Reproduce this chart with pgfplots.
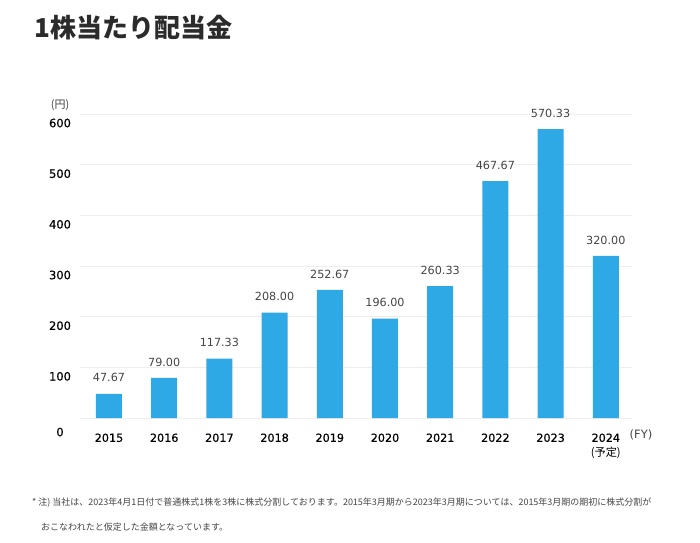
\documentclass[border=0pt]{standalone}
\usepackage{fontspec}
\usepackage{pgfplots}
\pgfplotsset{compat=1.18}
\setmainfont{DejaVu Sans}
\newfontfamily\tickfont[FakeBold=0.5]{DejaVu Sans}
\newfontfamily\cjk{Noto Sans CJK JP}
\definecolor{barblue}{HTML}{2FA8E6}
\definecolor{txtdark}{HTML}{2B2B2B}
\definecolor{txtgray}{HTML}{444444}
\definecolor{gridgray}{HTML}{EEEEEE}

\begin{document}
\begin{tikzpicture}[x=1pt,y=1pt]
\path[use as bounding box] (0,0) rectangle (700,542);

% title
\node[anchor=west, inner sep=0pt, text=txtdark] at (34,514)
  {\cjk\bfseries\fontsize{26}{30}\selectfont 1株当たり配当金};

\begin{axis}[
  at={(80pt,124pt)}, anchor=south west,
  scale only axis,
  width=552pt, height=304pt,
  xmin=-0.525, xmax=9.475,
  ymin=0, ymax=600,
  ybar, bar width=26pt, bar shift=0pt,
  axis line style={draw=none},
  major tick length=0pt,
  ymajorgrids, grid style={draw=gridgray, line width=0.8pt},
  /pgf/number format/assume math mode=true,
  xtick={0,...,9},
  xticklabels={2015,2016,2017,2018,2019,2020,2021,2022,2023,{2024\\{\cjk(予定)}}},
  xticklabel style={font=\tickfont\fontsize{11.2}{15}\selectfont, text=black, align=center, yshift=-12pt},
  ytick={100,200,300,400,500,600},
  extra y ticks={0},
  extra y tick style={yticklabel style={yshift=-5pt}},
  yticklabel style={font=\tickfont\fontsize{11.5}{13}\selectfont, text=black, anchor=center, xshift=-20pt, yshift=-9pt},
  nodes near coords={\pgfmathprintnumber[fixed,fixed zerofill,precision=2]{\pgfplotspointmeta}},
  nodes near coords style={font=\fontsize{11.2}{13}\selectfont, text=txtgray, anchor=south, inner sep=0pt, yshift=11.5pt},
  clip=false,
]
\addplot[fill=barblue, draw=none] coordinates {
  (0,47.67) (1,79.00) (2,117.33) (3,208.00) (4,252.67)
  (5,196.00) (6,260.33) (7,467.67) (8,570.33) (9,320.00)
};
\end{axis}

% unit labels
\node[text=txtgray, inner sep=0pt] at (60,437) {\cjk\fontsize{11}{13}\selectfont (円)};
\node[text=txtgray, inner sep=0pt] at (641,107) {\fontsize{11.5}{13}\selectfont (FY)};

% footnote
\node[anchor=west, text=txtgray, inner sep=0pt] at (32,39)
  {\cjk\fontsize{9}{10}\selectfont * 注) 当社は、2023年4月1日付で普通株式1株を3株に株式分割しております。2015年3月期から2023年3月期については、2015年3月期の期初に株式分割が};
\node[anchor=west, text=txtgray, inner sep=0pt] at (41,15)
  {\cjk\fontsize{9}{10}\selectfont おこなわれたと仮定した金額となっています。};
\end{tikzpicture}
\end{document}
